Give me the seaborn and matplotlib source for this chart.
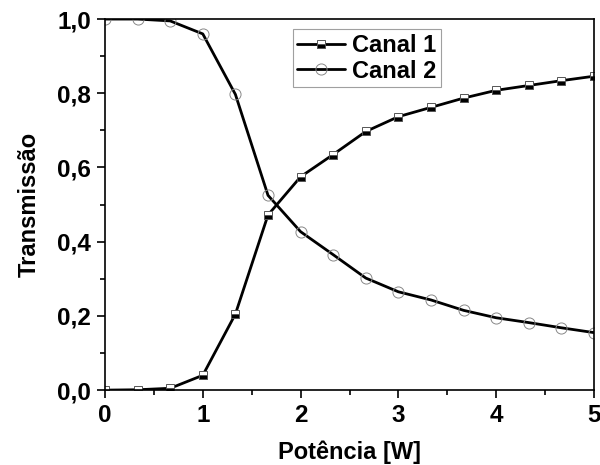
import numpy as np
import pandas as pd
import matplotlib
matplotlib.use("Agg")
import matplotlib.pyplot as plt
import seaborn as sns
from matplotlib.ticker import FuncFormatter, MultipleLocator, AutoMinorLocator

potencia = [0, 1/3, 2/3, 1, 4/3, 5/3, 2, 7/3, 8/3, 3, 10/3, 11/3, 4, 13/3, 14/3, 5]
canal1 = [0.0, 0.001, 0.005, 0.040, 0.205, 0.472, 0.575, 0.635, 0.697, 0.737,
          0.762, 0.787, 0.808, 0.821, 0.834, 0.846]
canal2 = [1.0, 1.0, 0.995, 0.960, 0.797, 0.525, 0.427, 0.365, 0.302, 0.265,
          0.243, 0.215, 0.195, 0.182, 0.168, 0.155]

sns.set_theme(style="ticks")
plt.rcParams['font.family'] = ['Liberation Sans', 'DejaVu Sans']
plt.rcParams['font.weight'] = 'bold'
for k in ['text.color', 'axes.labelcolor', 'xtick.color', 'ytick.color', 'axes.edgecolor']:
    plt.rcParams[k] = 'black'

fig = plt.figure(figsize=(6, 4.65), dpi=100)
ax = fig.add_axes([0.175, 0.161, 0.815, 0.798])

df1 = pd.DataFrame({"x": potencia, "y": canal1})
df2 = pd.DataFrame({"x": potencia, "y": canal2})

sns.lineplot(data=df1, x="x", y="y", ax=ax, color="black", lw=2.0,
             marker="s", markersize=6, fillstyle="bottom",
             markerfacecolor="black", markerfacecoloralt="white",
             markeredgecolor="#555555", markeredgewidth=0.7, label="Canal 1")
sns.lineplot(data=df2, x="x", y="y", ax=ax, color="black", lw=2.0,
             marker="o", markersize=8, markerfacecolor="none",
             markeredgecolor="#888888", markeredgewidth=0.7, label="Canal 2")

ax.set_xlim(0, 5)
ax.set_ylim(0, 1.0)
ax.xaxis.set_major_locator(MultipleLocator(1))
ax.xaxis.set_minor_locator(AutoMinorLocator(2))
ax.yaxis.set_major_locator(MultipleLocator(0.2))
ax.yaxis.set_minor_locator(AutoMinorLocator(2))
ax.yaxis.set_major_formatter(FuncFormatter(lambda v, p: f"{v:.1f}".replace(".", ",")))
ax.tick_params(which="major", direction="out", length=6, width=1.2, labelsize=17.5,
               top=False, right=False, pad=4, colors="black")
ax.tick_params(which="minor", direction="out", length=3.5, width=1.2,
               top=False, right=False, colors="black")
for lab in ax.get_xticklabels() + ax.get_yticklabels():
    lab.set_fontweight("bold")
for s in ax.spines.values():
    s.set_linewidth(1.2)
    s.set_color("black")

ax.set_xlabel("Potência [W]", fontsize=17, fontweight="bold", labelpad=10, color="black")
ax.set_ylabel("Transmissão", fontsize=17, fontweight="bold", labelpad=12, color="black")

leg = ax.legend(loc="upper left", bbox_to_anchor=(0.384, 0.972),
                frameon=True, fancybox=False, edgecolor="#888888",
                handlelength=2.0, handletextpad=0.3, borderpad=0.2,
                borderaxespad=0, labelspacing=0.1,
                prop={"weight": "bold", "size": 17})
leg.get_frame().set_linewidth(0.8)
for t in leg.get_texts():
    t.set_color("black")

fig.savefig("out.png", dpi=100)
